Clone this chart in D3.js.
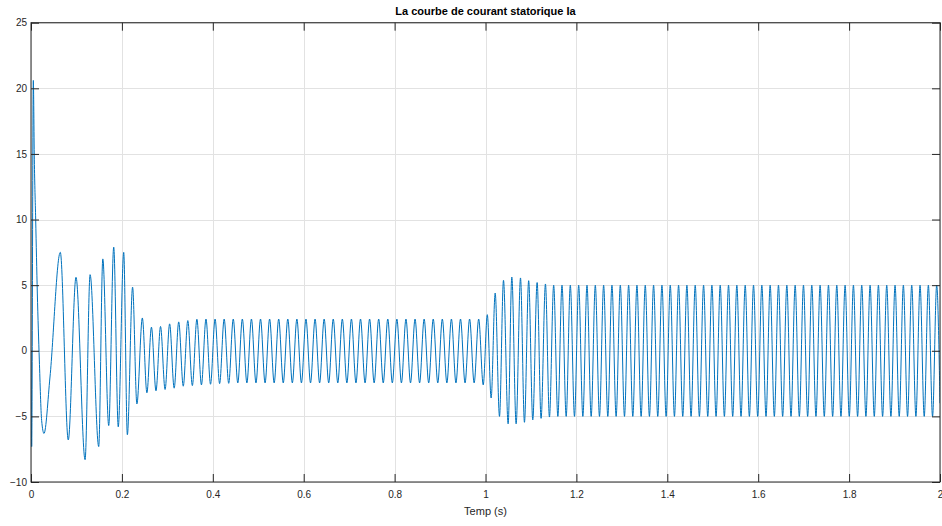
<!DOCTYPE html>
<html>
<head>
<meta charset="utf-8">
<script src="https://cdn.jsdelivr.net/npm/d3@7"></script>
<style>
  html, body { margin: 0; padding: 0; background: #ffffff; }
  svg { display: block; font-family: "Liberation Sans", Arial, sans-serif; }
</style>
</head>
<body>
<svg id="chart" width="942" height="526"></svg>
<script>
// ---- data ----
const chartTitle = "La courbe de courant statorique Ia";
const xLabel = "Temp (s)";
const xTicks = [0, 0.2, 0.4, 0.6, 0.8, 1, 1.2, 1.4, 1.6, 1.8, 2];
const yTicks = [-10, -5, 0, 5, 10, 15, 20, 25];

// start-up transient (time s, current A)
const transientT = [0, 0.0015, 0.0051, 0.0073, 0.0103, 0.0139, 0.0183, 0.0234, 0.0286, 0.0418, 0.0645, 0.082, 0.099, 0.119, 0.130, 0.149, 0.158, 0.171, 0.182, 0.192, 0.204, 0.212, 0.2235, 0.233];
const transientV = [0, -7.3, 20.6, 14.6, 10.0, 4.4, -0.7, -5.3, -6.3, -2.0, 7.5, -6.8, 5.6, -8.3, 5.8, -7.3, 7.0, -5.7, 7.9, -5.8, 7.5, -6.4, 4.85, -4.05];

// no-load regime peaks / troughs
const midPeakT = [0.245, 0.265, 0.285, 0.305, 0.325, 0.345, 0.365, 0.385, 0.405, 0.425, 0.445, 0.465, 0.485, 0.505, 0.525, 0.545, 0.565, 0.585, 0.605, 0.625, 0.645, 0.665, 0.685, 0.705, 0.725, 0.745, 0.765, 0.785, 0.805, 0.825, 0.845, 0.865, 0.885, 0.905, 0.925, 0.945, 0.965, 0.985];
const midPeakV = [2.5, 1.8, 1.85, 2.05, 2.2, 2.3, 2.4, 2.42, 2.42, 2.42, 2.42, 2.42, 2.42, 2.42, 2.42, 2.42, 2.42, 2.42, 2.42, 2.42, 2.42, 2.42, 2.42, 2.42, 2.42, 2.42, 2.42, 2.42, 2.42, 2.42, 2.42, 2.42, 2.42, 2.42, 2.42, 2.42, 2.42, 2.42];
const midTroughT = [0.255, 0.275, 0.295, 0.315, 0.335, 0.355, 0.375, 0.395, 0.415, 0.435, 0.455, 0.475, 0.495, 0.515, 0.535, 0.555, 0.575, 0.595, 0.615, 0.635, 0.655, 0.675, 0.695, 0.715, 0.735, 0.755, 0.775, 0.795, 0.815, 0.835, 0.855, 0.875, 0.895, 0.915, 0.935, 0.955, 0.975, 0.995];
const midTroughV = [-3.2, -3.05, -2.95, -2.85, -2.7, -2.65, -2.6, -2.55, -2.5, -2.48, -2.45, -2.45, -2.45, -2.45, -2.45, -2.45, -2.45, -2.45, -2.45, -2.45, -2.45, -2.45, -2.45, -2.45, -2.45, -2.45, -2.45, -2.45, -2.45, -2.45, -2.45, -2.45, -2.45, -2.45, -2.45, -2.45, -2.45, -2.6];

// load step at t = 1 s, then loaded regime
const loadPeakT = [1.004, 1.0213, 1.0396, 1.0579, 1.077, 1.095, 1.1136, 1.1319, 1.1500, 1.1683, 1.1866, 1.2050, 1.2233, 1.2416, 1.2599, 1.2782, 1.2966, 1.3149, 1.3332, 1.3515, 1.3698, 1.3882, 1.4065, 1.4248, 1.4431, 1.4614, 1.4798, 1.4981, 1.5164, 1.5347, 1.5530, 1.5714, 1.5897, 1.6080, 1.6263, 1.6446, 1.6630, 1.6813, 1.6996, 1.7179, 1.7362, 1.7546, 1.7729, 1.7912, 1.8095, 1.8278, 1.8462, 1.8645, 1.8828, 1.9011, 1.9194, 1.9378, 1.9561, 1.9744, 1.9927];
const loadPeakV = [2.75, 4.4, 5.37, 5.62, 5.55, 5.34, 5.2, 5.09, 5.0, 5.0, 5.0, 5.0, 5.0, 5.0, 5.0, 5.0, 5.0, 5.0, 5.0, 5.0, 5.0, 5.0, 5.0, 5.0, 5.0, 5.0, 5.0, 5.0, 5.0, 5.0, 5.0, 5.0, 5.0, 5.0, 5.0, 5.0, 5.0, 5.0, 5.0, 5.0, 5.0, 5.0, 5.0, 5.0, 5.0, 5.0, 5.0, 5.0, 5.0, 5.0, 5.0, 5.0, 5.0, 5.0, 5.0];
const loadTroughT = [1.0124, 1.0308, 1.0498, 1.0674, 1.0857, 1.104, 1.1223, 1.1407, 1.1592, 1.1775, 1.1958, 1.2142, 1.2325, 1.2508, 1.2691, 1.2874, 1.3058, 1.3241, 1.3424, 1.3607, 1.3790, 1.3974, 1.4157, 1.4340, 1.4523, 1.4706, 1.4890, 1.5073, 1.5256, 1.5439, 1.5622, 1.5806, 1.5989, 1.6172, 1.6355, 1.6538, 1.6722, 1.6905, 1.7088, 1.7271, 1.7454, 1.7638, 1.7821, 1.8004, 1.8187, 1.8370, 1.8554, 1.8737, 1.8920, 1.9103, 1.9286, 1.9470, 1.9653, 1.9836, 2.0];
const loadTroughV = [-3.6, -5.0, -5.57, -5.57, -5.45, -5.27, -5.15, -5.05, -5.0, -5.0, -5.0, -5.0, -5.0, -5.0, -5.0, -5.0, -5.0, -5.0, -5.0, -5.0, -5.0, -5.0, -5.0, -5.0, -5.0, -5.0, -5.0, -5.0, -5.0, -5.0, -5.0, -5.0, -5.0, -5.0, -5.0, -5.0, -5.0, -5.0, -5.0, -5.0, -5.0, -5.0, -5.0, -5.0, -5.0, -5.0, -5.0, -5.0, -5.0, -5.0, -5.0, -5.0, -5.0, -5.0, -4.0];

// ---- build the series ----
function pairs(ts, vs) { return ts.map((t, i) => ({ t: t, v: vs[i] })); }
const series = [].concat(
  pairs(transientT, transientV),
  pairs(midPeakT, midPeakV), pairs(midTroughT, midTroughV),
  pairs(loadPeakT, loadPeakV), pairs(loadTroughT, loadTroughV)
).sort((a, b) => a.t - b.t);

// ---- layout ----
const svg = d3.select("#chart");
const L = 31, R = 940, T = 22.7, B = 482;
const x = d3.scaleLinear().domain([0, 2]).range([L, R]);
const y = d3.scaleLinear().domain([-10, 25]).range([B, T]);
const axisColor = "#262626";

svg.append("rect").attr("width", 942).attr("height", 526).attr("fill", "#ffffff");

// grid
const grid = svg.append("g").attr("stroke", "#e2e2e2").attr("stroke-width", 1);
grid.selectAll("line.gx").data(xTicks).join("line")
  .attr("x1", d => Math.round(x(d)) + 0.5).attr("x2", d => Math.round(x(d)) + 0.5)
  .attr("y1", T).attr("y2", B);
grid.selectAll("line.gy").data(yTicks).join("line")
  .attr("x1", L).attr("x2", R)
  .attr("y1", d => Math.round(y(d)) + 0.5).attr("y2", d => Math.round(y(d)) + 0.5);

// clip
svg.append("clipPath").attr("id", "clip").append("rect")
  .attr("x", L).attr("y", T).attr("width", R - L).attr("height", B - T);

// the signal
const line = d3.line().x(d => x(d.t)).y(d => y(d.v)).curve(d3.curveMonotoneX);
svg.append("path").datum(series)
  .attr("clip-path", "url(#clip)")
  .attr("fill", "none").attr("stroke", "#0072BD").attr("stroke-width", 1)
  .attr("stroke-linejoin", "round")
  .attr("d", line);

// axes
const fmt = d3.format("~g");
const gx = svg.append("g").attr("transform", `translate(0,${B})`)
  .call(d3.axisBottom(x).tickValues(xTicks).tickFormat(fmt).tickSizeInner(-8).tickSizeOuter(0).tickPadding(9));
const gxt = svg.append("g").attr("transform", `translate(0,${T})`)
  .call(d3.axisTop(x).tickValues(xTicks).tickFormat("").tickSizeInner(-8).tickSizeOuter(0));
const gy = svg.append("g").attr("transform", `translate(${L},0)`)
  .call(d3.axisLeft(y).tickValues(yTicks).tickFormat(fmt).tickSizeInner(-8).tickSizeOuter(0).tickPadding(4));
const gyr = svg.append("g").attr("transform", `translate(${R},0)`)
  .call(d3.axisRight(y).tickValues(yTicks).tickFormat("").tickSizeInner(-8).tickSizeOuter(0));

[gx, gxt, gy, gyr].forEach(g => {
  g.select(".domain").remove();
  g.selectAll(".tick line").attr("stroke", axisColor).attr("stroke-width", 1);
  g.selectAll(".tick text").attr("fill", axisColor).attr("font-size", 10)
    .attr("font-family", "'Liberation Sans', Arial, sans-serif");
});

// box
svg.append("rect").attr("x", L).attr("y", T).attr("width", R - L).attr("height", B - T)
  .attr("fill", "none").attr("stroke", axisColor).attr("stroke-width", 1);

// labels
svg.append("text").attr("x", (L + R) / 2).attr("y", 515)
  .attr("text-anchor", "middle").attr("font-size", 11).attr("fill", axisColor)
  .text(xLabel);
svg.append("text").attr("x", (L + R) / 2).attr("y", 15)
  .attr("text-anchor", "middle").attr("font-size", 11).attr("font-weight", "bold").attr("fill", "#000000")
  .text(chartTitle);
</script>
</body>
</html>
